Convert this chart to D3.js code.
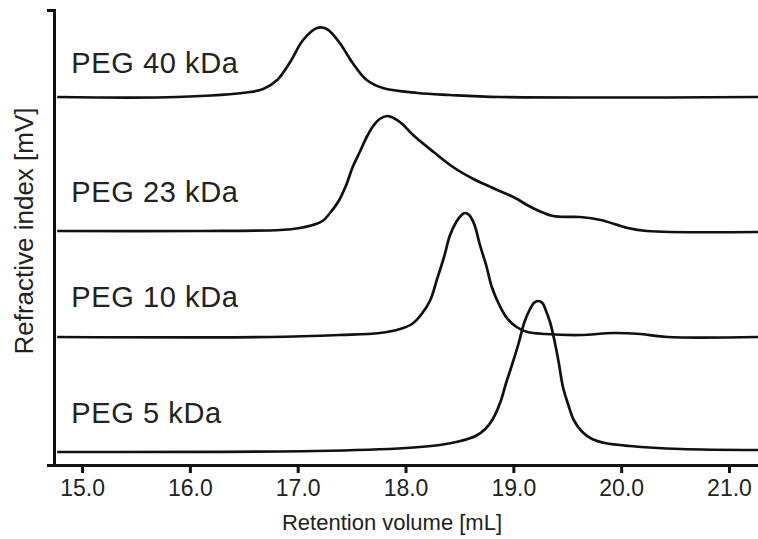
<!DOCTYPE html>
<html>
<head>
<meta charset="utf-8">
<script src="https://cdn.jsdelivr.net/npm/d3@7"></script>
<style>
  body { margin: 0; background: #fff; }
  svg { display: block; font-family: "Liberation Sans", Arial, sans-serif; }
  .trace { fill: none; stroke: #111; stroke-width: 2.7; stroke-linejoin: round; }
  .axis path, .axis line { stroke: #111; stroke-width: 3; }
  .axis text { font-size: 23px; fill: #222; }
</style>
</head>
<body>
<svg width="758" height="539"></svg>
<script>
// retention volume [mL] and stacked RI signal (arbitrary mV, offset per trace)
const peg40Vol = [14.77, 15.88, 16.56, 16.68, 16.81, 16.93, 17.05, 17.18, 17.27, 17.39, 17.51, 17.64, 17.79, 18.11, 18.41, 18.88, 21.27];
const peg40Sig = [368, 368, 373, 376, 385, 403, 425, 437, 436, 422, 402, 385, 377, 372, 370, 368, 368];

const peg23Vol = [14.77, 16.10, 16.84, 17.02, 17.14, 17.23, 17.30, 17.38, 17.45, 17.51, 17.58, 17.64, 17.70, 17.76, 17.83, 17.89, 17.97, 18.07, 18.26, 18.44, 18.63, 18.81, 19.00, 19.18, 19.37, 19.62, 19.81, 20.06, 20.24, 21.27];
const peg23Sig = [234, 234, 235, 237, 240, 244, 252, 264, 280, 298, 314, 328, 339, 346, 349, 347, 341, 330, 313, 298, 286, 277, 268, 257, 249, 248, 245, 237, 234, 233];

const peg10Vol = [14.77, 16.74, 17.39, 17.76, 17.95, 18.06, 18.15, 18.23, 18.29, 18.36, 18.41, 18.47, 18.52, 18.55, 18.59, 18.64, 18.69, 18.75, 18.80, 18.87, 18.94, 19.03, 19.13, 19.30, 19.62, 19.93, 20.18, 20.43, 21.27];
const peg10Sig = [128, 128, 130, 132, 136, 141, 151, 165, 185, 209, 229, 243, 250, 252, 250, 240, 220, 199, 178, 160, 147, 138, 133, 131, 130, 132, 131, 128, 128];

const peg5Vol = [14.77, 17.16, 18.01, 18.32, 18.51, 18.65, 18.74, 18.81, 18.88, 18.93, 18.99, 19.05, 19.10, 19.15, 19.19, 19.23, 19.27, 19.30, 19.34, 19.38, 19.42, 19.46, 19.51, 19.56, 19.64, 19.73, 19.85, 20.08, 20.55, 21.27];
const peg5Sig = [13, 14, 17, 20, 24, 29, 36, 46, 63, 81, 101, 122, 142, 155, 162, 164, 162, 155, 143, 125, 103, 78, 60, 45, 33, 26, 22, 19, 16, 15];

const seriesNames = ["PEG 40 kDa", "PEG 23 kDa", "PEG 10 kDa", "PEG 5 kDa"];
const labelVol = 14.9;
const labelSig = [392, 263, 158, 42];
const xTicks = [15, 16, 17, 18, 19, 20, 21];

const svg = d3.select('svg');

const x = d3.scaleLinear().domain([14.675, 21.269]).range([47, 758]);
const y = d3.scaleLinear().domain([0, 455]).range([465, 10]);

const series = [
  { name: seriesNames[0], vol: peg40Vol, sig: peg40Sig },
  { name: seriesNames[1], vol: peg23Vol, sig: peg23Sig },
  { name: seriesNames[2], vol: peg10Vol, sig: peg10Sig },
  { name: seriesNames[3], vol: peg5Vol, sig: peg5Sig }
];

const line = d3.line()
  .x(d => x(d[0]))
  .y(d => y(d[1]))
  .curve(d3.curveCatmullRom.alpha(0.5));

svg.selectAll('.trace')
  .data(series)
  .enter()
  .append('path')
    .attr('class', 'trace')
    .attr('d', s => line(s.vol.map((v, i) => [v, s.sig[i]])));

// labels sit left of each trace
svg.selectAll('.label')
  .data(series)
  .enter()
  .append('text')
    .attr('class', 'label')
    .attr('x', x(labelVol))
    .attr('y', (d, i) => y(labelSig[i]))
    .attr('font-size', 29)
    .attr('letter-spacing', 0.6)
    .attr('fill', '#222')
    .text(d => d.name);

// axes
svg.append('g')
  .attr('class', 'axis axis-x')
  .attr('transform', 'translate(0,' + y(0) + ')')
  .call(d3.axisBottom(x)
    .tickValues(xTicks)
    .tickFormat(d3.format('.1f'))
    .tickSizeInner(8)
    .tickSizeOuter(0)
    .tickPadding(7));

svg.append('g')
  .attr('class', 'axis axis-y')
  .attr('transform', 'translate(54,0)')
  .call(d3.axisLeft(y).tickValues([]).tickSizeOuter(7));

svg.append('text')
  .attr('x', 392)
  .attr('y', 530)
  .attr('text-anchor', 'middle')
  .attr('font-size', 22)
  .attr('fill', '#222')
  .text('Retention volume [mL]');

svg.append('text')
  .attr('transform', 'translate(33,231) rotate(-90)')
  .attr('text-anchor', 'middle')
  .attr('font-size', 26)
  .attr('fill', '#222')
  .text('Refractive index [mV]');
</script>
</body>
</html>
